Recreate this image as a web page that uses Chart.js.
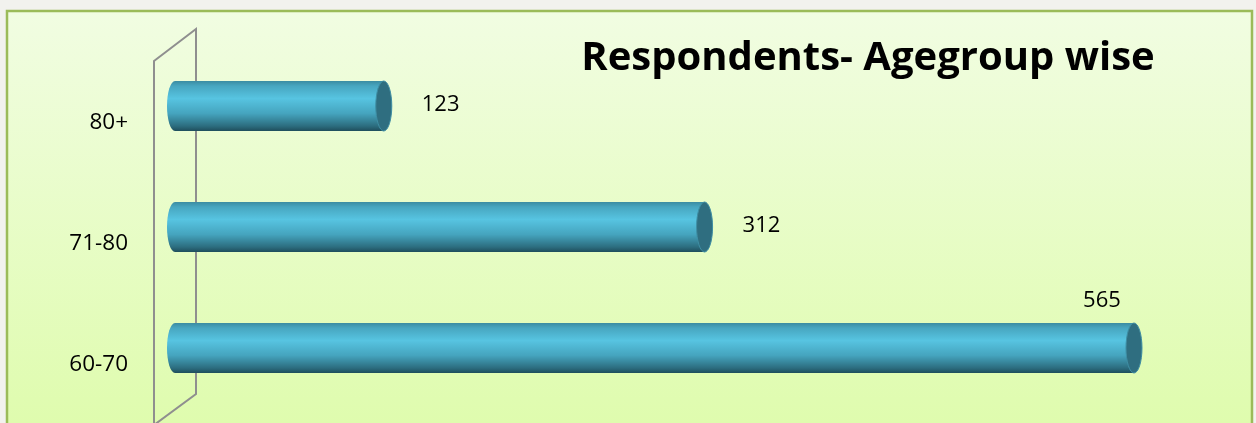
<!DOCTYPE html>
<html>
<head>
<meta charset="utf-8">
<script src="https://cdn.jsdelivr.net/npm/chart.js@4.4.0/dist/chart.umd.min.js"></script>
<style>
html,body{margin:0;padding:0;background:#f2f2ee;overflow:hidden}
#wrap{width:1256px;height:423px;position:relative}
canvas{display:block}
</style>
</head>
<body>
<div id="wrap"><canvas id="c" width="1256" height="423"></canvas></div>
<script>
const chartTitle = 'Respondents- Agegroup wise';
const categories = ['80+', '71-80', '60-70'];
const respondents = [123, 312, 565];
const axisMin = 0;
const axisMax = 600;

const FONT = '"Open Sans", "Noto Sans", sans-serif';

const decor = {
  id: 'decor',
  beforeDraw(chart) {
    const ctx = chart.ctx, W = chart.width, H = chart.height, a = chart.chartArea;
    ctx.save();
    ctx.fillStyle = '#f2f2ee';
    ctx.fillRect(0, 0, W, H);
    const g = ctx.createLinearGradient(0, 11, 0, H);
    g.addColorStop(0, '#f1fde2');
    g.addColorStop(1, '#dffcae');
    ctx.fillStyle = g;
    ctx.fillRect(7, 11, W - 11, H);
    ctx.strokeStyle = '#9bbb59';
    ctx.lineWidth = 2.5;
    ctx.beginPath();
    ctx.moveTo(7, H + 5); ctx.lineTo(7, 11); ctx.lineTo(W - 4, 11); ctx.lineTo(W - 4, H + 5);
    ctx.stroke();
    // back wall (3D)
    const L = a.left;
    ctx.strokeStyle = '#8f8f8f';
    ctx.lineWidth = 2;
    ctx.beginPath();
    ctx.moveTo(L - 21, a.top + 15.5);
    ctx.lineTo(L + 21, a.top - 16.5);
    ctx.lineTo(L + 21, a.bottom - 14.5);
    ctx.lineTo(L - 21, a.bottom + 16.5);
    ctx.closePath();
    ctx.stroke();
    ctx.restore();
  },
  afterDatasetsDraw(chart) {
    const ctx = chart.ctx, a = chart.chartArea;
    const meta = chart.getDatasetMeta(0);
    ctx.save();
    meta.data.forEach((bar, i) => {
      const p = bar.getProps(['x', 'y', 'base', 'height'], true);
      const x = p.x, y = p.y, base = p.base, ry = p.height / 2, rx = 8;
      const top = y - ry, bot = y + ry;
      const g = ctx.createLinearGradient(0, top, 0, bot);
      g.addColorStop(0, '#3b8ca2');
      g.addColorStop(0.1, '#47a6c0');
      g.addColorStop(0.35, '#57c4e1');
      g.addColorStop(0.65, '#45a4be');
      g.addColorStop(0.9, '#2c6d7f');
      g.addColorStop(1, '#1f4e5c');
      ctx.fillStyle = g;
      ctx.beginPath();
      ctx.moveTo(x, top);
      ctx.lineTo(base, top);
      ctx.ellipse(base, y, rx, ry, 0, -Math.PI / 2, Math.PI / 2, true);
      ctx.lineTo(x, bot);
      ctx.closePath();
      ctx.fill();
      ctx.fillStyle = '#2f6e80';
      ctx.strokeStyle = '#3f8ea4';
      ctx.lineWidth = 1;
      ctx.beginPath();
      ctx.ellipse(x, y, rx, ry, 0, 0, Math.PI * 2);
      ctx.fill();
      ctx.stroke();

      // value label
      const txt = String(respondents[i]);
      ctx.font = '22px ' + FONT;
      ctx.fillStyle = '#000';
      ctx.textBaseline = 'middle';
      const w = ctx.measureText(txt).width;
      let lx = x + 38, ly = y - 1.5;
      if (lx + w > a.right) {
        ctx.textAlign = 'center';
        lx = x - 32; ly = top - 22;
      } else {
        ctx.textAlign = 'left';
      }
      ctx.fillText(txt, lx, ly);
    });
    ctx.restore();
  },
  afterDraw(chart) {
    const ctx = chart.ctx;
    ctx.save();
    ctx.font = 'bold 40px ' + FONT;
    ctx.fillStyle = '#000';
    ctx.textAlign = 'center';
    ctx.textBaseline = 'alphabetic';
    ctx.fillText(chartTitle, 868, 70);
    ctx.restore();
  }
};

new Chart(document.getElementById('c'), {
  type: 'bar',
  data: {
    labels: categories,
    datasets: [{
      data: respondents,
      backgroundColor: 'rgba(0,0,0,0)',
      borderWidth: 0,
      barThickness: 50
    }]
  },
  options: {
    indexAxis: 'y',
    responsive: false,
    animation: false,
    devicePixelRatio: 1,
    layout: { padding: { left: 0, right: 62.6, top: 45.5, bottom: 14.5 } },
    plugins: { legend: { display: false }, tooltip: { enabled: false }, title: { display: false } },
    scales: {
      x: { display: false, min: axisMin, max: axisMax },
      y: {
        display: true,
        offset: true,
        grid: { display: false, drawTicks: false },
        border: { display: false },
        ticks: { color: '#000', font: { family: FONT, size: 22.5 }, padding: 47, labelOffset: 17 },
        afterFit(scale) { scale.width = 175; scale.paddingTop = 0; scale.paddingBottom = 0; }
      }
    }
  },
  plugins: [decor]
});
</script>
</body>
</html>
